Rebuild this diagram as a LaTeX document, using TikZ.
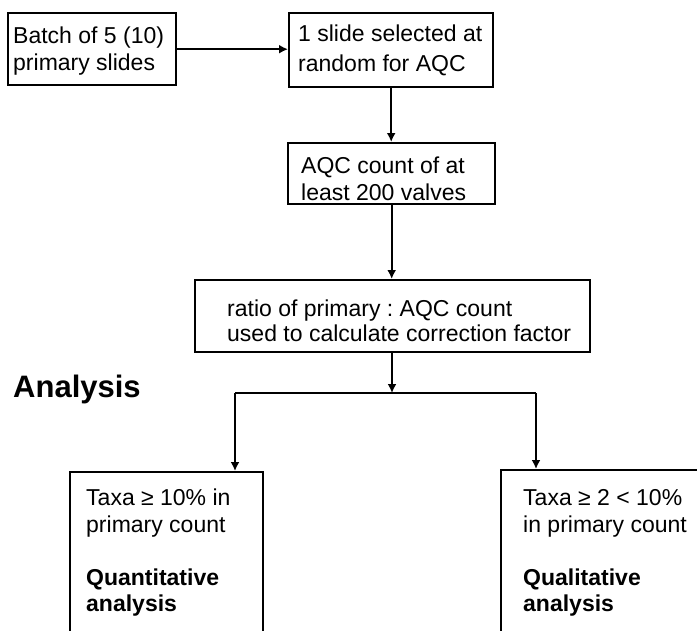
\documentclass[tikz,border=0pt]{standalone}
\usepackage{fontspec}
\setmainfont{Liberation Sans}
\usetikzlibrary{arrows.meta}
\frenchspacing
\begin{document}
\begin{tikzpicture}[x=1pt,y=-1pt,
  boxstyle/.style={draw=black, line width=2.4pt, rectangle, anchor=north west, inner sep=0pt},
  txt/.style={anchor=base west, inner sep=0pt, font=\fontsize{23}{27}\selectfont\frenchspacing},
  btxt/.style={txt, font=\fontsize{23}{27}\selectfont\bfseries},
  conn/.style={line width=2.4pt, -{Latex[length=9pt,width=9pt]}},
  plain/.style={line width=2.4pt}]
\useasboundingbox (0,0) rectangle (697,630);
\clip (0,0) rectangle (697,630);
\fill[white] (0,0) rectangle (697,630);

% boxes
\node[boxstyle, minimum width=168pt, minimum height=72pt] (b1) at (7,12) {};
\node[boxstyle, minimum width=204pt, minimum height=74pt] (b2) at (288,12) {};
\node[boxstyle, minimum width=207pt, minimum height=61pt] (b3) at (287,142) {};
\node[boxstyle, minimum width=395pt, minimum height=72pt] (b4) at (194,279) {};
\node[boxstyle, minimum width=193pt, minimum height=200pt] (b5) at (69,471) {};
\node[boxstyle, minimum width=240pt, minimum height=200pt] (b6) at (500,469) {};

% texts
\node[txt] (t1a) at (13,43) {Batch of 5 (10)};
\node[txt] (t1b) at (13,70) {primary slides};
\node[txt] (t2a) at (298,41.5) {1 slide selected at};
\node[txt] (t2b) at (298,71.5) {random for AQC};
\node[txt] (t3a) at (301,173) {AQC count of at};
\node[txt] (t3b) at (301,200) {least 200 valves};
\node[txt] (t4a) at (227,316.5) {ratio of primary : AQC count};
\node[txt] (t4b) at (227,341.5) {used to calculate correction factor};
\node[txt] (t5a) at (86,505) {Taxa ≥ 10\% in};
\node[txt] (t5b) at (86,532) {primary count};
\node[btxt] (t5c) at (86,585) {Quantitative};
\node[btxt] (t5d) at (86,611) {analysis};
\node[txt] (t6a) at (523,505) {Taxa ≥ 2 < 10\%};
\node[txt] (t6b) at (523,532) {in primary count};
\node[btxt] (t6c) at (523,585) {Qualitative};
\node[btxt] (t6d) at (523,611) {analysis};

\node[anchor=base west, inner sep=0pt, font=\fontsize{31}{36}\selectfont\bfseries] (an) at (13,397) {Analysis};

% connectors
\coordinate (j) at (392,393);
\coordinate (jl) at (235,393);
\coordinate (jr) at (536,393);

\draw[conn] (b1.east) -- (b1.east -| b2.west);
\draw[conn] (b2.south) -- (b2.south |- b3.north);
\draw[conn] (b3.south) -- (b3.south |- b4.north);
\draw[conn] (b4.south -| j) -- (j);
\draw[plain] (jl) -- (jr);
\draw[conn] (jl) -- (jl |- b5.north);
\draw[conn] (jr) -- (jr |- b6.north);
\end{tikzpicture}
\end{document}
